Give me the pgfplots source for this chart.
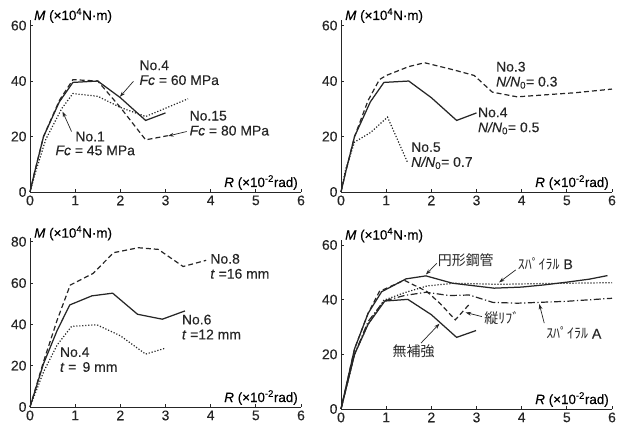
\documentclass[border=0pt]{standalone}
\usepackage{fontspec}
\setmainfont{Liberation Sans}[FakeBold=0.25]
\newfontfamily\jp{Noto Sans CJK JP}
\usepackage{pgfplots}
\pgfplotsset{compat=1.18}
\usetikzlibrary{arrows.meta}

\newcommand{\Mlab}{\node[anchor=base west, inner sep=0pt, xshift=4bp, font=\fontsize{13.5}{14}\selectfont]
  at (rel axis cs:0,1) {\textit{M} (×10\textsuperscript{4}N·m)};}
\newcommand{\Rlab}{\node[anchor=base east, inner sep=0pt, xshift=-3bp, yshift=5bp, font=\fontsize{13.5}{14}\selectfont]
  at (rel axis cs:1,0) {\textit{R} (×10\textsuperscript{-2}rad)};}

\pgfplotsset{
  panel/.style={scale only axis, width=271bp, xmin=0, xmax=6, ymin=0,
    axis lines*=left, tick align=inside, major tick length=3bp,
    xtick={0,1,...,6},
    axis line style={line width=0.8bp, black!85},
    tick style={line width=0.8bp, black!85},
    ticklabel style={font=\fontsize{14}{14}\selectfont, black!85},
    /pgf/number format/assume math mode=true,
    clip=false},
}
\tikzset{
  sol/.style={black!85, line width=1.25bp},
  das/.style={black!85, line width=1.2bp, dash pattern=on 5bp off 3bp},
  dot/.style={black!85, line width=1.2bp, dash pattern=on 1.2bp off 1.8bp},
  dd/.style={black!85, line width=1.2bp, dash pattern=on 7bp off 2.5bp on 1.2bp off 2.5bp},
  arr/.style={-{Stealth[length=5.5bp,width=3.8bp]}, line width=0.7bp, black!85},
  note/.style={align=left, anchor=north west, inner sep=0pt, text=black!85,
    font=\fontsize{14}{15}\selectfont},
  jnote/.style={note, font=\jp\fontsize{14}{15}\selectfont},
}

\begin{document}
\begin{tikzpicture}
\useasboundingbox (0,0) rectangle (622bp,430bp);

% top left: concrete strength
\begin{axis}[panel, at={(30bp,238bp)}, anchor=south west, height=172bp, ymax=62, ytick={0,20,40,60}]
\addplot[sol] coordinates {(0,0) (0.1,7) (0.3,20) (0.65,32.5) (0.95,39.5) (1.5,40) (2.0,34) (2.56,25.8) (3.0,28.5)};
\addplot[das] coordinates {(0,0) (0.1,7) (0.3,20) (0.65,33) (0.95,40.5) (1.5,40) (2.0,30.5) (2.56,18.8) (3.05,20.3)};
\addplot[dot] coordinates {(0,0) (0.12,7) (0.35,19) (0.7,30) (0.95,35.5) (1.5,34.5) (2.0,30.5) (2.56,27.2) (3.5,33.6)};
\Mlab \Rlab
\node[note] at (axis cs:2.42,47.5) {No.4\\\textit{Fc} = 60 MPa};
\draw[arr] (axis cs:2.29,39.9) -- (axis cs:1.99,34.3);
\node[note] at (axis cs:1.0,21.8) {No.1};
\node[note] at (axis cs:0.56,16.8) {\textit{Fc} = 45 MPa};
\draw[arr] (axis cs:0.92,21.8) -- (axis cs:0.72,29);
\node[note] at (axis cs:3.53,29.3) {No.15\\\textit{Fc} = 80 MPa};
\draw[arr] (axis cs:3.47,21.8) -- (axis cs:3.06,20.2);
\end{axis}

% top right: axial force ratio
\begin{axis}[panel, at={(341bp,238bp)}, anchor=south west, height=172bp, ymax=62, ytick={0,20,40,60}]
\addplot[das] coordinates {(0,0) (0.1,7) (0.3,20) (0.6,33) (0.85,40.5) (1.0,42) (1.5,45.2) (1.85,46.6) (2.5,44) (2.95,42) (3.35,36) (3.9,34.3) (4.5,35) (5.2,35.8) (6,37.1)};
\addplot[sol] coordinates {(0,0) (0.1,7) (0.3,20) (0.65,32.5) (0.95,39.5) (1.5,40) (2.0,34) (2.56,25.8) (3.0,28.5)};
\addplot[dot] coordinates {(0,0) (0.1,8) (0.3,18) (0.66,21.5) (1.03,27) (1.48,10.4)};
\Mlab \Rlab
\node[note] at (axis cs:3.43,47) {No.3\\\textit{N/N}\textsubscript{0}= 0.3};
\node[note] at (axis cs:3.03,30.5) {No.4\\\textit{N/N}\textsubscript{0}= 0.5};
\node[note] at (axis cs:1.55,18) {No.5\\\textit{N/N}\textsubscript{0}= 0.7};
\end{axis}

% bottom left: tube thickness
\begin{axis}[panel, at={(30bp,23bp)}, anchor=south west, height=169.4bp, ymax=82, ytick={0,20,40,60,80}]
\addplot[das] coordinates {(0,0) (0.3,22) (0.6,42) (0.89,59) (1.4,64.7) (1.85,74.7) (2.4,77.1) (2.84,76.3) (3.39,68) (3.9,71)};
\addplot[sol] coordinates {(0,0) (0.3,21) (0.6,37) (0.88,49.4) (1.37,53.8) (1.83,55.1) (2.38,44.9) (2.93,42.5) (3.43,46.5)};
\addplot[dot] coordinates {(0,0) (0.3,17) (0.6,30) (0.92,39) (1.48,39.8) (2.0,34.5) (2.56,25.6) (3.0,28.5)};
\Mlab \Rlab
\node[note] at (axis cs:3.99,74.2) {No.8\\\textit{t} =16 mm};
\node[note] at (axis cs:3.36,44.8) {No.6\\\textit{t} =12 mm};
\node[note] at (axis cs:0.66,29) {No.4\\\textit{t} = \,9 mm};
\end{axis}

% bottom right: reinforcement type
\begin{axis}[panel, at={(341bp,21bp)}, anchor=south west, height=169.5bp, ymax=62, ytick={0,20,40,60}]
\addplot[sol] coordinates {(0,0) (0.3,22) (0.6,35) (0.9,42.9) (1.44,47.6) (1.88,48.7) (2.47,46) (3.39,44.2) (4.0,44.6) (4.5,45.4) (5.0,46.4) (5.5,47.5) (5.9,48.8)};
\addplot[sol] coordinates {(0,0) (0.3,20) (0.6,31) (0.97,39.5) (1.48,40.1) (2.0,34.5) (2.56,26.2) (2.99,28.7)};
\addplot[das] coordinates {(0,0) (0.3,22) (0.6,35) (0.85,43) (1.4,47.1) (1.9,43) (2.2,38.5) (2.53,32.6) (2.84,38.3)};
\addplot[dot] coordinates {(0,0) (0.3,20) (0.6,31) (0.95,39.8) (1.4,42.5) (1.9,45) (2.5,46) (3.5,45.6) (4.5,45.9) (6,46.2)};
\addplot[dd] coordinates {(0,0) (0.3,20) (0.6,32) (0.95,39.5) (1.4,41.5) (1.88,42.7) (2.4,41.5) (2.84,41.7) (3.36,39) (3.91,38.7) (5,39.4) (6,40.5)};
\Mlab \Rlab
\node[jnote] at (axis cs:2.14,56.8) {円形鋼管};
\draw[arr] (axis cs:2.12,53.3) -- (axis cs:1.88,49.2);
\node[note] at (axis cs:3.91,55.6) {{\jp ｽﾊﾟｲﾗﾙ} B};
\draw[arr] (axis cs:3.87,50.9) -- (axis cs:3.5,46.3);
\node[jnote] at (axis cs:3.17,35.8) {縦ﾘﾌﾞ};
\draw[arr] (axis cs:3.12,33.8) -- (axis cs:2.76,35.3);
\node[note] at (axis cs:4.54,30.2) {{\jp ｽﾊﾟｲﾗﾙ} A};
\draw[arr] (axis cs:4.5,31.4) -- (axis cs:4.39,38.4);
\node[jnote] at (axis cs:1.14,23.6) {無補強};
\draw[arr] (axis cs:1.77,24.1) -- (axis cs:2.18,31.2);
\end{axis}
\end{tikzpicture}
\end{document}
